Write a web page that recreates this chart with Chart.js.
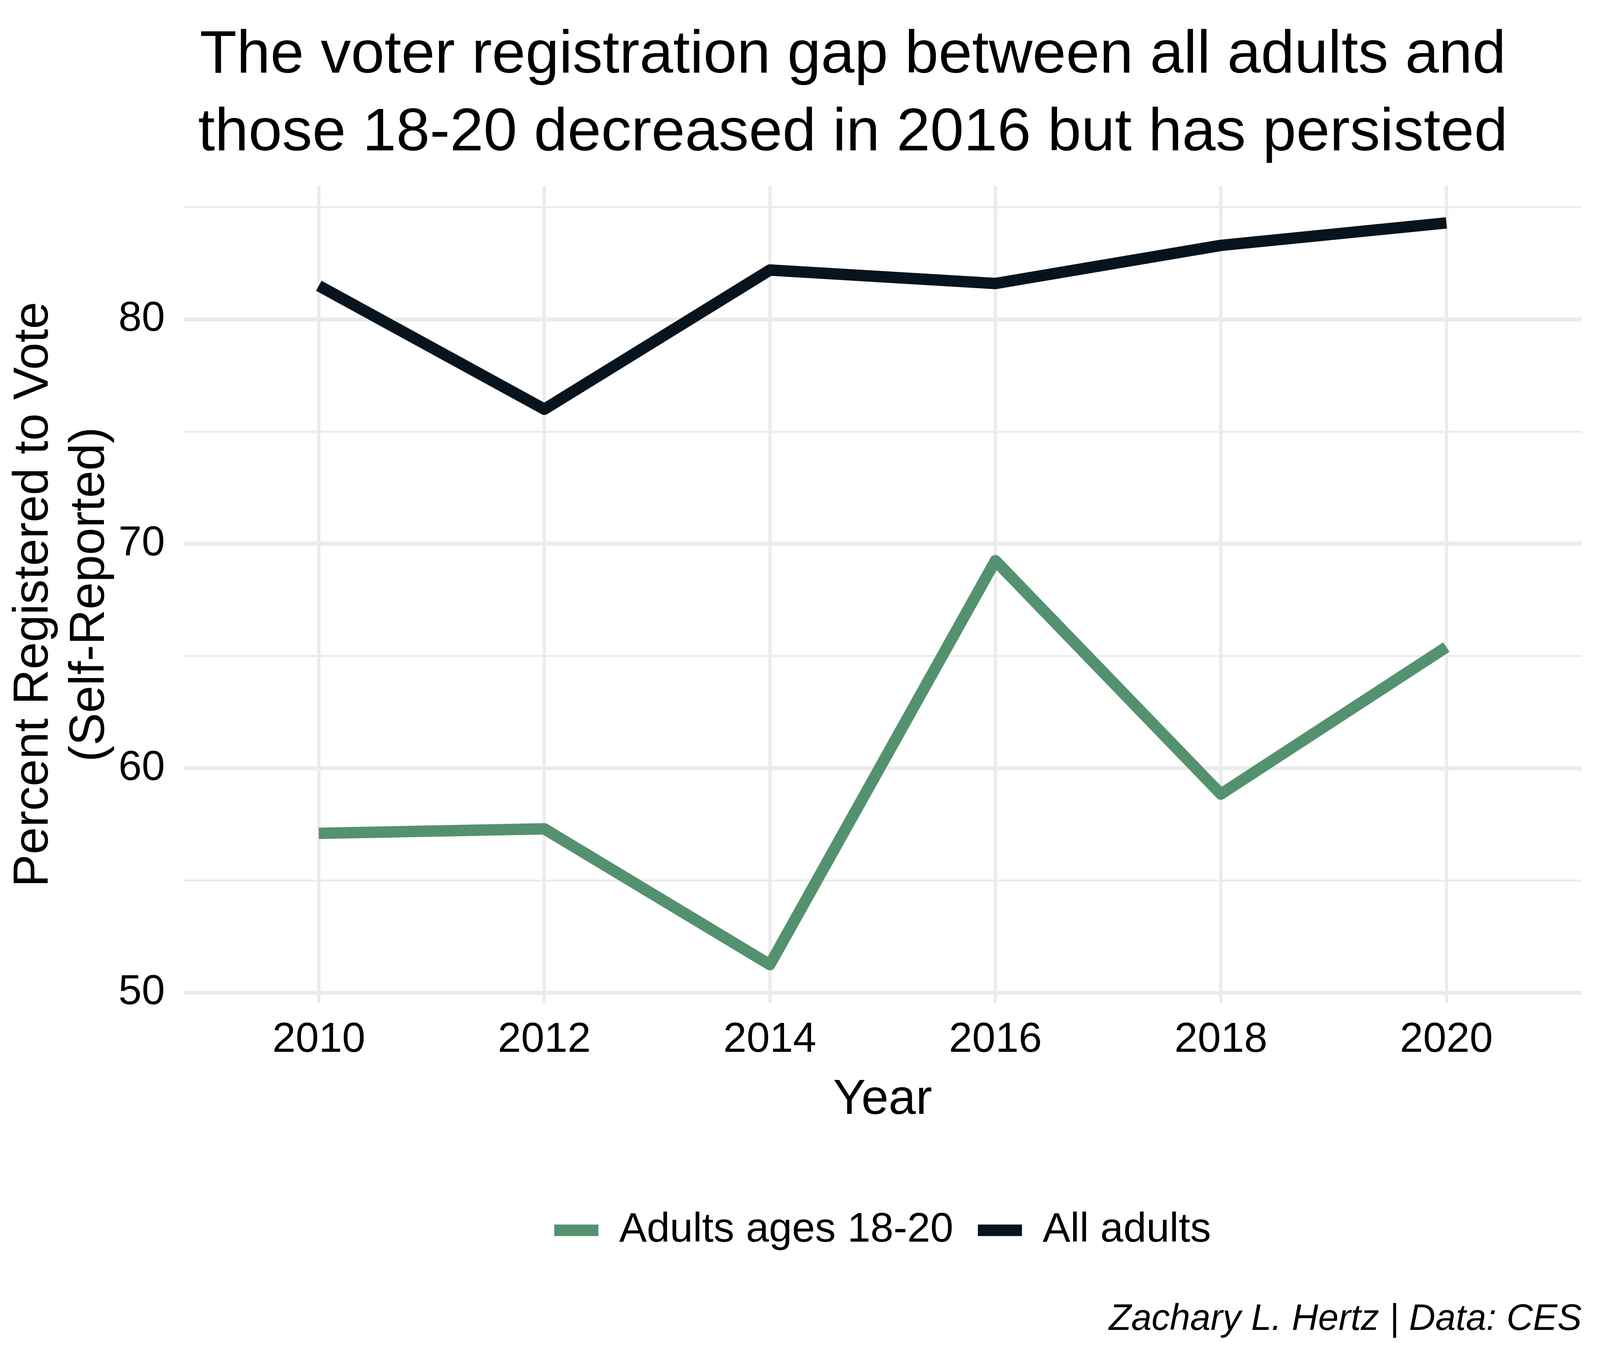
<!DOCTYPE html>
<html>
<head>
<meta charset="utf-8">
<title>Voter registration gap</title>
<script src="https://cdn.jsdelivr.net/npm/chart.js@4.4.1/dist/chart.umd.min.js"></script>
<style>
  html, body { margin: 0; padding: 0; background: #ffffff; overflow: hidden; }
  #wrap { position: absolute; left: 0; top: 0; }
  canvas { display: block; }
</style>
</head>
<body>
<div id="wrap">
  <canvas id="regChart"></canvas>
</div>
<script>
// data
const years = [2010, 2012, 2014, 2016, 2018, 2020];
const youthRegistered = [57.1, 57.3, 51.25, 69.25, 58.85, 65.4];
const allRegistered = [81.5, 76.0, 82.2, 81.6, 83.3, 84.3];

const seriesLabels = ["Adults ages 18-20", "All adults"];
const seriesColors = ["#54926F", "#07141D"];

const xTicks = [2010, 2012, 2014, 2016, 2018, 2020];
const yMajorTicks = [50, 60, 70, 80];
const yMinorTicks = [55, 65, 75, 85];

const titleLines = [
  "The voter registration gap between all adults and",
  "those 18-20 decreased in 2016 but has persisted"
];
const captionText = "Zachary L. Hertz | Data: CES";

// layout was measured on a 4900x3500 picture; map it onto the real window
const SX = window.innerWidth / 4900;
const SY = window.innerHeight / 3500;
const hx = (v) => v * SX;          // horizontal distances
const vy = (v) => v * SY;          // vertical distances
const fs = (v) => v * SX;          // font sizes
const lw = (v) => v * Math.sqrt(SX * SY);

const wrap = document.getElementById("wrap");
wrap.style.width = window.innerWidth + "px";
wrap.style.height = window.innerHeight + "px";

const FONT = "'Liberation Sans', Arial, Helvetica, sans-serif";
Chart.defaults.font.family = FONT;
Chart.defaults.color = "#000000";

// title + caption drawn on the canvas, like ggplot does
const headerFooter = {
  id: "headerFooter",
  afterDraw(chart) {
    const ctx = chart.ctx;
    ctx.save();
    ctx.fillStyle = "#000000";
    ctx.textBaseline = "alphabetic";
    ctx.font = fs(185) + "px " + FONT;
    ctx.textAlign = "center";
    ctx.fillText(titleLines[0], hx(2612), vy(186));
    ctx.fillText(titleLines[1], hx(2612), vy(385));

    ctx.font = "italic " + fs(112) + "px " + FONT;
    ctx.textAlign = "right";
    ctx.fillText(captionText, chart.chartArea.right, vy(3405));
    ctx.restore();
  }
};

const toPoints = (xs, ys) => xs.map((x, i) => ({x: x, y: ys[i]}));

const lineStyle = {
  borderWidth: lw(32),
  borderJoinStyle: "round",
  borderCapStyle: "butt",
  pointRadius: 0,
  tension: 0
};

const data = {
  datasets: [
    Object.assign({
      label: seriesLabels[0],
      data: toPoints(years, youthRegistered),
      borderColor: seriesColors[0],
      backgroundColor: seriesColors[0]
    }, lineStyle),
    Object.assign({
      label: seriesLabels[1],
      data: toPoints(years, allRegistered),
      borderColor: seriesColors[1],
      backgroundColor: seriesColors[1]
    }, lineStyle)
  ]
};

// legend geometry: text middle should sit at y=3150 of the reference
const legendFont = fs(127);
const legendPad = hx(75);
const legendTop = vy(3150) - legendPad - legendFont / 2;
const legendHeight = legendFont + legendPad + 10;
const plotBottom = vy(2568);

// x title middle at y=2817
const xTitleFont = fs(150);
const xTitleLine = 1.153;
const xTitlePad = legendTop - xTitleFont * xTitleLine / 2 - vy(2817);

// x tick label middle at y=2663
const xTickFont = fs(128);
const xTickPad = vy(2663) - plotBottom - xTickFont * 1.2 / 2;

// y title: first line centred at x=104
const yTitleFont = fs(150);
const yTitlePad = hx(104) - yTitleFont * 1.153 / 2;

const options = {
  responsive: true,
  maintainAspectRatio: false,
  animation: false,
  layout: {
    padding: {
      top: vy(476),
      right: hx(56),
      bottom: window.innerHeight - legendTop - legendHeight,
      left: 0
    }
  },
  plugins: {
    title: {display: false},
    tooltip: {enabled: false},
    legend: {
      position: "bottom",
      fullSize: false,
      labels: {
        usePointStyle: true,
        pointStyle: "line",
        pointStyleWidth: hx(135),
        padding: legendPad,
        color: "#000000",
        font: {size: legendFont}
      }
    }
  },
  scales: {
    x: {
      type: "linear",
      min: 2008.8,
      max: 2021.2,
      afterBuildTicks: (scale) => {
        scale.ticks = xTicks.map(v => ({value: v}));
      },
      afterFit: (scale) => { scale.height = legendTop - plotBottom; },
      border: {display: false},
      grid: {color: "#EBEBEB", lineWidth: hx(10), drawTicks: false},
      ticks: {
        padding: xTickPad,
        color: "#000000",
        font: {size: xTickFont, lineHeight: 1.2},
        callback: (v) => String(v)
      },
      title: {
        display: true,
        text: "Year",
        color: "#000000",
        font: {size: xTitleFont, lineHeight: xTitleLine},
        padding: {top: 0, bottom: xTitlePad}
      }
    },
    y: {
      type: "linear",
      min: 49.54,
      max: 85.95,
      afterBuildTicks: (scale) => {
        scale.ticks = [...yMajorTicks, ...yMinorTicks]
          .sort((a, b) => a - b)
          .map(v => ({value: v}));
      },
      afterFit: (scale) => { scale.width = hx(562); },
      border: {display: false},
      grid: {
        color: "#EBEBEB",
        drawTicks: false,
        lineWidth: (c) => (c.tick && yMinorTicks.includes(c.tick.value)) ? vy(5) : vy(10)
      },
      ticks: {
        padding: hx(57),
        color: "#000000",
        font: {size: fs(128)},
        callback: (v) => yMajorTicks.includes(v) ? String(v) : ""
      },
      title: {
        display: true,
        text: ["Percent Registered to Vote", "(Self-Reported)"],
        color: "#000000",
        font: {size: yTitleFont, lineHeight: 1.153},
        padding: {top: yTitlePad, bottom: 0}
      }
    }
  }
};

const regChart = new Chart(document.getElementById("regChart"), {
  type: "line",
  data: data,
  options: options,
  plugins: [headerFooter]
});
</script>
</body>
</html>
